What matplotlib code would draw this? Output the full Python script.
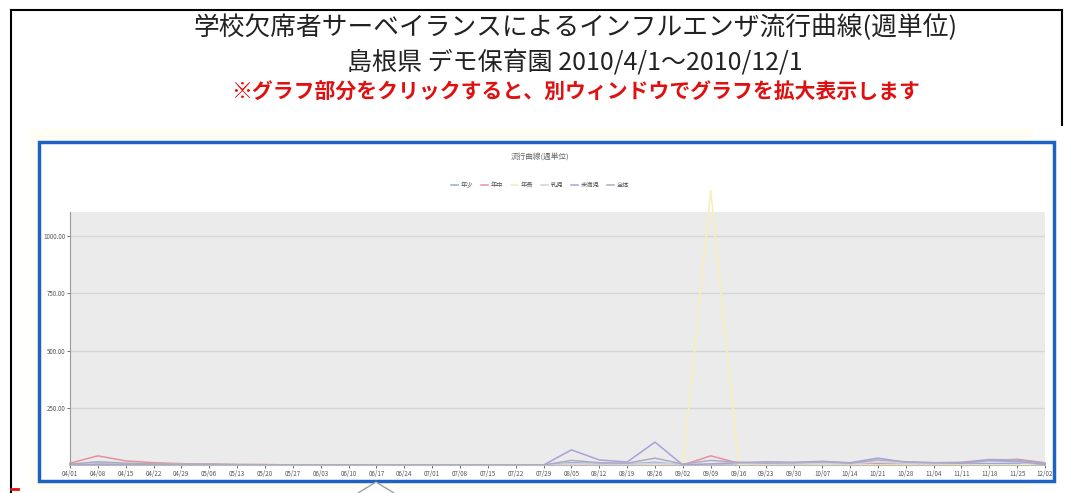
"""
Recreation of a school-absence influenza surveillance chart (weekly).
"""

import matplotlib

matplotlib.use("Agg")
import matplotlib.pyplot as plt
from matplotlib.lines import Line2D
from matplotlib.patches import Rectangle, Polygon
import numpy as np
import pandas as pd

plt.rcParams["font.family"] = ["Noto Sans CJK JP", "DejaVu Sans"]

# === DATA ===

TITLE_1 = "学校欠席者サーベイランスによるインフルエンザ流行曲線(週単位)"
TITLE_2 = "島根県 デモ保育園 2010/4/1～2010/12/1"
NOTICE = "※グラフ部分をクリックすると、別ウィンドウでグラフを拡大表示します"
CHART_TITLE = "流行曲線(週単位)"

week_labels = [d.strftime("%m/%d") for d in pd.date_range("2010-04-01", "2010-12-02", freq="7D")]

series_names = ["年少", "年中", "年長", "乳児", "未満児", "全体"]
series_colors = ["#94aad2", "#e8909f", "#f6f0b4", "#d2d2de", "#aca0dc", "#acacc0"]

s_nenshou = [3, 8, 5, 3, 2, 2, 1, 0, 0, 0, 0, 0, 0, 0, 0, 0, 0, 0, 10, 6, 4, 12, 0, 3,
             6, 4, 3, 5, 4, 8, 5, 3, 4, 6, 5, 2]
s_nenchu = [8, 40, 18, 10, 6, 4, 2, 2, 0, 0, 0, 0, 0, 0, 0, 0, 0, 0, 4, 2, 2, 6, 0, 40,
            8, 4, 6, 10, 6, 4, 3, 4, 6, 18, 25, 10]
s_nenchou = [0, 0, 0, 0, 0, 0, 0, 0, 0, 0, 0, 0, 0, 0, 0, 0, 0, 0, 0, 0, 0, 0, 0, 1200,
             0, 0, 0, 0, 0, 0, 0, 0, 0, 0, 0, 8]
s_nyuji = [2, 10, 6, 4, 3, 2, 2, 1, 0, 0, 0, 0, 0, 0, 0, 0, 0, 0, 6, 4, 3, 8, 2, 4,
           8, 6, 4, 8, 6, 12, 8, 6, 10, 14, 12, 6]
s_miman = [0, 2, 2, 1, 2, 2, 1, 0, 0, 0, 0, 0, 0, 0, 0, 0, 0, 0, 66, 22, 13, 100, 0, 5,
           10, 14, 12, 16, 10, 30, 12, 10, 8, 20, 15, 4]
s_zentai = [4, 14, 8, 5, 3, 3, 2, 1, 0, 0, 0, 0, 0, 0, 0, 0, 0, 0, 20, 10, 8, 30, 4, 20,
            12, 8, 10, 14, 8, 22, 14, 10, 12, 24, 22, 8]

series_values = [s_nenshou, s_nenchu, s_nenchou, s_nyuji, s_miman, s_zentai]

y_ticks = [250, 500, 750, 1000]
y_tick_labels = ["250.00", "500.00", "750.00", "1000.00"]

# === FIGURE ===

fig = plt.figure(figsize=(10.65, 4.93), dpi=100)
W, H = 1065, 493


def fx(px):
    return px / W


def fy(py):
    return 1 - py / H


# page frame (black) and chart box (blue)
fig.add_artist(Line2D([fx(11), fx(11)], [fy(10), 0], color="black", lw=1.5))
fig.add_artist(Line2D([fx(11), fx(1062)], [fy(10), fy(10)], color="black", lw=1.5))
fig.add_artist(Line2D([fx(1062), fx(1062)], [fy(10), fy(125)], color="black", lw=1.5))
bg = Rectangle((fx(30), fy(490)), fx(1033) - fx(30), fy(128) - fy(490),
               transform=fig.transFigure, facecolor="#fffdf4", edgecolor="none", zorder=-3)
fig.add_artist(bg)
box = Rectangle((fx(39), fy(481)), fx(1054) - fx(39), fy(142) - fy(481),
                transform=fig.transFigure, facecolor="white",
                edgecolor="#1e62c4", lw=2.5, zorder=-2)
fig.add_artist(box)
fig.add_artist(Line2D([fx(11), fx(18)], [fy(489), fy(489)], color="#e01010", lw=2))

# tooltip pointer at the bottom
fig.add_artist(Polygon([(fx(358), 0), (fx(376), fy(482)), (fx(394), 0)],
                       closed=False, transform=fig.transFigure,
                       facecolor="white", edgecolor="#a0a0a0", lw=1, zorder=10))

# page titles
fig.text(0.54, fy(28), TITLE_1, ha="center", va="center", fontsize=18.5, color="#222222")
fig.text(0.54, fy(62), TITLE_2, ha="center", va="center", fontsize=18, color="#222222")
fig.text(0.54, fy(92), NOTICE, ha="center", va="center", fontsize=15,
         fontweight="bold", color="#e01010")

# chart title
fig.text(0.507, fy(158), CHART_TITLE, ha="center", va="center", fontsize=5.5, color="#666666")

ax = fig.add_axes([fx(70), fy(465), fx(1045) - fx(70), fy(212) - fy(465)])
ax.set_zorder(2)
ax.set_facecolor("#ebebeb")

x = np.arange(len(week_labels))
for name, vals, col in zip(series_names, series_values, series_colors):
    ax.plot(x, vals, color=col, lw=1.1, label=name, clip_on=False)

ax.set_xlim(0, len(week_labels) - 1)
ax.set_ylim(0, 1105)
ax.set_yticks(y_ticks)
ax.set_yticklabels(y_tick_labels)
ax.set_xticks(x)
ax.set_xticklabels(week_labels)
ax.tick_params(axis="both", labelsize=4.5, colors="#555555", length=2, width=0.6, pad=1.5)
ax.grid(axis="y", color="#d6d6d6", lw=1)
ax.set_axisbelow(True)
for side in ["top", "right"]:
    ax.spines[side].set_visible(False)
ax.spines["left"].set_color("#999999")
ax.spines["bottom"].set_color("#bbbbbb")

fig.legend(loc="center", bbox_to_anchor=(0.507, fy(185)), ncol=6, frameon=False,
           fontsize=4.5, handlelength=1.2, columnspacing=1.2, handletextpad=0.4,
           labelcolor="#555555")

fig.savefig("out.png", dpi=100)
